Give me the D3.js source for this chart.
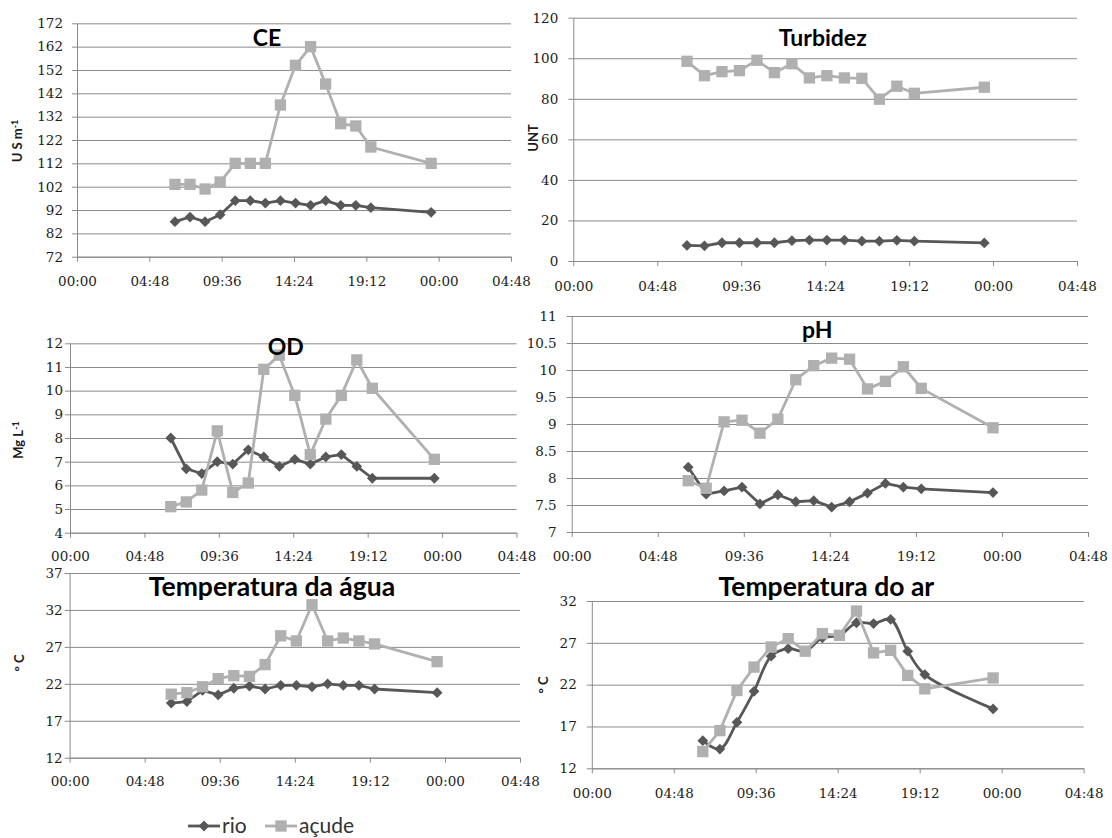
<!DOCTYPE html>
<html>
<head>
<meta charset="utf-8">
<script src="https://cdn.jsdelivr.net/npm/d3@7"></script>
<style>
  body { margin: 0; background: #fff; }
  svg { display: block; }
</style>
</head>
<body>
<svg></svg>
<script>
// sampling times (hh:mm)
const times = ["06:30","07:30","08:30","09:30","10:30","11:30","12:30","13:30",
               "14:30","15:30","16:30","17:30","18:30","19:30","23:30"];

// series
const ceRio     = [87, 89, 87, 90, 96, 96, 95, 96, 95, 94, 96, 94, 94, 93, 91];
const ceAcude   = [103, 103, 101, 104, 112, 112, 112, 137, 154, 162, 146, 129, 128, 119, 112];
const turbRio   = [7.7, 7.5, 9.0, 9.0, 9.0, 9.0, 10.0, 10.3, 10.3, 10.3, 9.8, 9.8, 10.2, 9.8, 8.9];
const turbAcude = [98.5, 91.4, 93.4, 93.9, 99.0, 92.9, 97.3, 90.3, 91.4, 90.3, 90.1, 79.8, 86.2, 82.7, 85.7];
const odRio     = [8.0, 6.7, 6.5, 7.0, 6.9, 7.5, 7.2, 6.8, 7.1, 6.9, 7.2, 7.3, 6.8, 6.3, 6.3];
const odAcude   = [5.1, 5.3, 5.8, 8.3, 5.7, 6.1, 10.9, 11.5, 9.8, 7.3, 8.8, 9.8, 11.3, 10.1, 7.1];
const phRio     = [8.2, 7.7, 7.76, 7.83, 7.52, 7.69, 7.56, 7.58, 7.46, 7.56, 7.72, 7.9, 7.83, 7.8, 7.73];
const phAcude   = [7.95, 7.81, 9.04, 9.07, 8.83, 9.09, 9.82, 10.08, 10.22, 10.2, 9.65, 9.79, 10.06, 9.66, 8.93];
const aguaRio   = [19.4, 19.6, 21.1, 20.5, 21.4, 21.7, 21.3, 21.8, 21.8, 21.6, 22.0, 21.8, 21.8, 21.3, 20.8];
const aguaAcude = [20.6, 20.8, 21.6, 22.7, 23.1, 23.0, 24.6, 28.5, 27.8, 32.7, 27.8, 28.2, 27.8, 27.4, 25.0];
const arRio     = [15.3, 14.3, 17.5, 21.2, 25.4, 26.3, 26.0, 27.6, 27.9, 29.4, 29.3, 29.8, 26.0, 23.2, 19.1];
const arAcude   = [14.0, 16.5, 21.3, 24.1, 26.5, 27.5, 26.0, 28.1, 27.9, 30.8, 25.8, 26.1, 23.1, 21.5, 22.8];

// axis ticks
const xTickHours  = [0, 4.8, 9.6, 14.4, 19.2, 24, 28.8];
const xTickLabels = ["00:00","04:48","09:36","14:24","19:12","00:00","04:48"];
const ticksCE   = [72, 82, 92, 102, 112, 122, 132, 142, 152, 162, 172];
const ticksTurb = [0, 20, 40, 60, 80, 100, 120];
const ticksOD   = [4, 5, 6, 7, 8, 9, 10, 11, 12];
const ticksPH   = [7, 7.5, 8, 8.5, 9, 9.5, 10, 10.5, 11];
const ticksAgua = [12, 17, 22, 27, 32, 37];
const ticksAr   = [12, 17, 22, 27, 32];

const width = 1112,
      height = 838,
      rioColor = "#575757",     // rio
      acudeColor = "#b0b0b0",   // açude
      gridColor = "#8a8a8a",
      textColor = "#1c1c1c",
      tickFont = "'DejaVu Serif', 'Liberation Serif', serif",
      tickSize = 13.5,
      sansFont = "Lato, 'Open Sans', sans-serif";

const svg = d3.select("svg")
  .attr("width", width)
  .attr("height", height)
  .style("background", "#fff");

const hours = t => { const p = t.split(":").map(Number); return p[0] + p[1] / 60; };

const panels = [
  { title: "CE", rio: ceRio, acude: ceAcude, ticks: ticksCE,
    l: 77, r: 511, t: 23.3, b: 256.7, tx: 267, ty: 45.7, ts: 23,
    xLab: 25, yGap: 14, yLab: ["U S m", "-1"], lx: 17, ly: 141 },
  { title: "Turbidez", rio: turbRio, acude: turbAcude, ticks: ticksTurb,
    l: 573.3, r: 1077, t: 17.7, b: 261, tx: 822.7, ty: 45.7, ts: 23,
    xLab: 25, yGap: 15, yLab: ["UNT"], lx: 533, ly: 138 },
  { title: "OD", rio: odRio, acude: odAcude, ticks: ticksOD,
    l: 70, r: 516.5, t: 343.3, b: 532.7, tx: 285.8, ty: 355, ts: 23,
    xLab: 23.5, yGap: 7, yLab: ["Mg L", "-1"], lx: 18, ly: 440 },
  { title: "pH", rio: phRio, acude: phAcude, ticks: ticksPH,
    l: 571.7, r: 1088, t: 316, b: 532, tx: 817.3, ty: 338.3, ts: 23,
    xLab: 24.5, yGap: 15, yLab: null },
  { title: "Temperatura da água", rio: aguaRio, acude: aguaAcude, ticks: ticksAgua,
    l: 69.6, r: 520, t: 573, b: 757.7, tx: 272, ty: 596, ts: 26.5,
    xLab: 24, yGap: 7, yLab: ["° C"], lx: 19, ly: 663 },
  { title: "Temperatura do ar", rio: arRio, acude: arAcude, ticks: ticksAr,
    l: 591.8, r: 1083.6, t: 601, b: 768.3, tx: 826.4, ty: 596, ts: 26.5,
    xLab: 25, yGap: 15, yLab: ["° C"], lx: 543, ly: 685, smoothRio: true }
];

const square = d3.symbol().type(d3.symbolSquare).size(128)();
const diamond = d3.symbol().type(d3.symbolSquare).size(58)();

panels.forEach(p => {
  const x = d3.scaleLinear().domain([0, 28.8]).range([p.l, p.r]);
  const y = d3.scaleLinear().domain([p.ticks[0], p.ticks[p.ticks.length - 1]]).range([p.b, p.t]);
  const g = svg.append("g");

  // grid + left axis
  const ya = g.append("g")
    .attr("transform", `translate(${p.l},0)`)
    .call(d3.axisLeft(y).tickValues(p.ticks).tickSize(-(p.r - p.l))
      .tickSizeOuter(0).tickPadding(p.yGap).tickFormat(d => String(d)))
    .attr("font-family", tickFont)
    .attr("font-size", tickSize);
  ya.selectAll(".tick line").attr("x1", -5).attr("stroke", gridColor);
  ya.select(".domain").attr("stroke", gridColor);
  ya.selectAll("text").attr("fill", textColor);

  // bottom axis
  const xa = g.append("g")
    .attr("transform", `translate(0,${p.b})`)
    .call(d3.axisBottom(x).tickValues(xTickHours).tickSize(5)
      .tickSizeOuter(0).tickFormat((d, i) => xTickLabels[i]))
    .attr("font-family", tickFont)
    .attr("font-size", tickSize);
  xa.selectAll(".tick line").attr("stroke", gridColor);
  xa.select(".domain").attr("stroke", gridColor);
  xa.selectAll("text")
    .attr("y", p.xLab).attr("dy", "0.35em")
    .attr("fill", textColor);

  // series
  const series = [
    { v: p.rio, color: rioColor, mark: diamond, rot: 45, curve: p.smoothRio ? d3.curveCatmullRom : d3.curveLinear },
    { v: p.acude, color: acudeColor, mark: square, rot: 0, curve: d3.curveLinear }
  ];
  series.forEach(s => {
    const line = d3.line()
      .x((d, i) => x(hours(times[i])))
      .y(d => y(d))
      .curve(s.curve);
    g.append("path")
      .attr("d", line(s.v))
      .attr("fill", "none")
      .attr("stroke", s.color)
      .attr("stroke-width", 2.8)
      .attr("stroke-linejoin", "round");
    g.selectAll(null)
      .data(s.v)
      .enter().append("path")
      .attr("d", s.mark)
      .attr("fill", s.color)
      .attr("transform", (d, i) => `translate(${x(hours(times[i]))},${y(d)}) rotate(${s.rot})`);
  });

  // title
  g.append("text")
    .attr("x", p.tx).attr("y", p.ty)
    .attr("text-anchor", "middle")
    .attr("fill", "#000")
    .attr("font-family", sansFont)
    .attr("font-weight", "bold")
    .attr("font-size", p.ts)
    .text(p.title);

  // y label
  if (p.yLab) {
    const lab = g.append("text")
      .attr("transform", `translate(${p.lx},${p.ly}) rotate(-90)`)
      .attr("text-anchor", "middle")
      .attr("dy", "0.35em")
      .attr("fill", textColor)
      .attr("font-family", sansFont)
      .attr("font-weight", "bold")
      .attr("font-size", 13);
    lab.append("tspan").text(p.yLab[0]);
    if (p.yLab[1]) {
      lab.append("tspan")
        .attr("dy", "-0.45em")
        .attr("font-size", 9)
        .text(p.yLab[1]);
    }
  }
});

// legend
const legend = svg.append("g").attr("transform", "translate(0,826)");
[
  { name: "rio", color: rioColor, mark: diamond, rot: 45, x0: 188 },
  { name: "açude", color: acudeColor, mark: square, rot: 0, x0: 265 }
].forEach(d => {
  legend.append("line")
    .attr("x1", d.x0).attr("x2", d.x0 + 32)
    .attr("stroke", d.color).attr("stroke-width", 2.8);
  legend.append("path")
    .attr("d", d.mark)
    .attr("fill", d.color)
    .attr("transform", `translate(${d.x0 + 16},0) rotate(${d.rot})`);
  legend.append("text")
    .attr("x", d.x0 + 34).attr("y", 7)
    .attr("fill", "#333")
    .attr("font-family", sansFont)
    .attr("font-size", 21)
    .text(d.name);
});
</script>
</body>
</html>
